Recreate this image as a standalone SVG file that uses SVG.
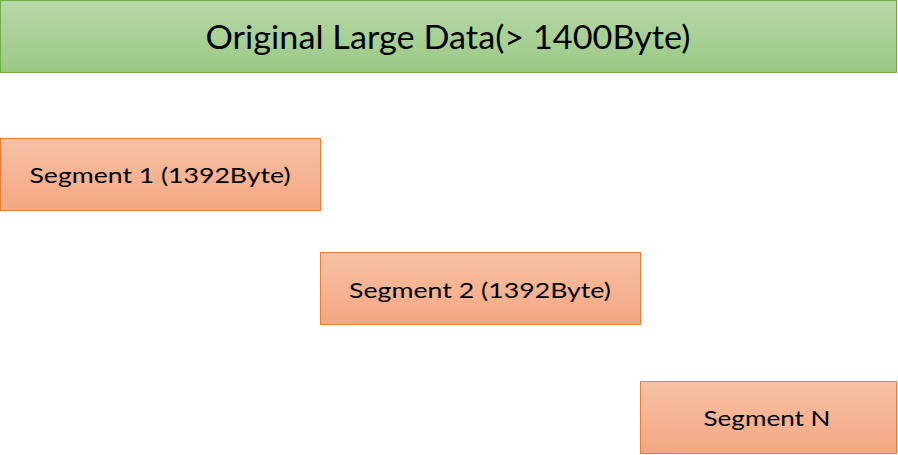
<svg xmlns="http://www.w3.org/2000/svg" width="898" height="455" viewBox="0 0 898 455">
<defs>
<linearGradient id="g" x1="0" y1="0" x2="0" y2="1"><stop offset="0" stop-color="#b6d7a8"/><stop offset="1" stop-color="#9cc985"/></linearGradient>
<linearGradient id="o" x1="0" y1="0" x2="0" y2="1"><stop offset="0" stop-color="#f7c1a5"/><stop offset="1" stop-color="#f4a782"/></linearGradient>
</defs>
<style>
.gb{fill:url(#g);stroke:#70ad47;stroke-width:1}
.ob{fill:url(#o);stroke:#ed7d31;stroke-width:1}
text{font-family:Lato,"Open Sans","Liberation Sans",sans-serif;fill:#000;text-anchor:middle}
.t{font-size:32px}
.s{font-size:22px}
</style>
<g id="original"><rect class="gb" x="0.5" y="0.5" width="896" height="72"/><text class="t" x="448" y="48.5" textLength="485" lengthAdjust="spacingAndGlyphs">Original Large Data(&gt; 1400Byte)</text></g>
<g id="seg1"><rect class="ob" x="0.5" y="138.5" width="320" height="72"/><text class="s" x="160" y="182.5" textLength="261" lengthAdjust="spacingAndGlyphs">Segment 1 (1392Byte)</text></g>
<g id="seg2"><rect class="ob" x="320.5" y="252.5" width="320" height="72"/><text class="s" x="480" y="298" textLength="262" lengthAdjust="spacingAndGlyphs">Segment 2 (1392Byte)</text></g>
<g id="segN"><rect class="ob" x="640.5" y="381.5" width="256" height="72"/><text class="s" x="767" y="426" textLength="127" lengthAdjust="spacingAndGlyphs">Segment N</text></g>
<g id="connectors"></g>
</svg>
